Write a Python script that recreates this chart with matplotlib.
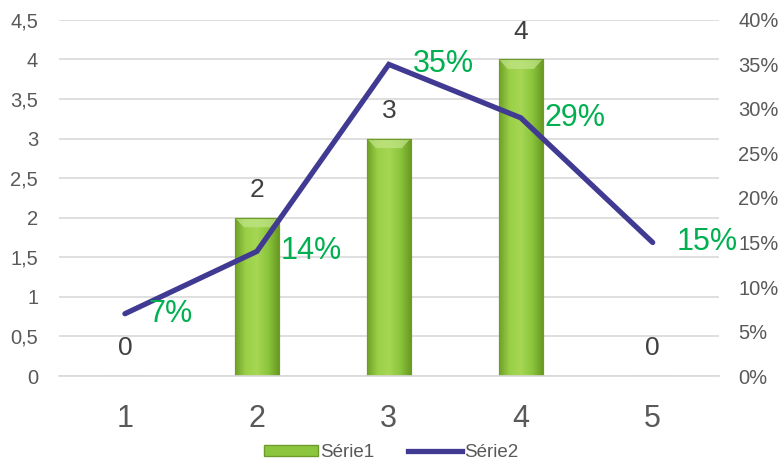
import numpy as np
import matplotlib
matplotlib.use('Agg')
import matplotlib.pyplot as plt
from matplotlib.lines import Line2D
from matplotlib.patches import Patch
from matplotlib.ticker import FuncFormatter

plt.rcParams['font.family'] = ['Liberation Sans', 'DejaVu Sans']

# Données
categories = [1, 2, 3, 4, 5]
serie1 = [0, 2, 3, 4, 0]
serie2 = [0.07, 0.14, 0.35, 0.29, 0.15]
labels2 = ['7%', '14%', '35%', '29%', '15%']

fig = plt.figure(figsize=(7.82, 4.62), dpi=100)
ax = fig.add_axes([0.0754, 0.186, 0.8436, 0.771])
ax2 = ax.twinx()

x = np.arange(len(categories))
bar_w = 0.33

# Barres avec un dégradé vert
bars = ax.bar(x, serie1, width=bar_w, color='#8CC63E', edgecolor='#6E9B2B',
              linewidth=0.8, zorder=2)
grad = np.linspace(0, 1, 256).reshape(1, -1)
cmap = matplotlib.colors.LinearSegmentedColormap.from_list(
    'vert', ['#6FA126', '#9BD048', '#A6D653', '#8CC63E', '#6A9A22'])
for b in bars:
    h = b.get_height()
    if h <= 0:
        continue
    x0 = b.get_x()
    im = ax.imshow(grad, cmap=cmap, aspect='auto', zorder=2.1,
                   extent=[x0, x0 + b.get_width(), 0, h])
    im.set_clip_path(b)
    # biseau en haut
    ax.fill([x0, x0 + b.get_width(), x0 + b.get_width() * 0.8, x0 + b.get_width() * 0.2],
            [h, h, h - 0.12, h - 0.12], color='#C3E68A', alpha=0.7, zorder=2.2, lw=0)
    ax.add_patch(plt.Rectangle((x0, 0), b.get_width(), h, fill=False,
                               edgecolor='#6E9B2B', lw=0.8, zorder=2.3))

for xi, v in zip(x, serie1):
    ax.text(xi, v + 0.2, str(v), ha='center', va='bottom', fontsize=19,
            color='#404040', zorder=4)

ax.set_xlim(-0.5, 4.5)
ax.set_ylim(0, 4.5)
ax.set_yticks(np.arange(0, 4.51, 0.5))
ax.yaxis.set_major_formatter(FuncFormatter(lambda v, p: ('%g' % v).replace('.', ',')))
ax.set_xticks(x)
ax.set_xticklabels([str(c) for c in categories])
ax.grid(axis='y', color='#D9D9D9', lw=1.2, zorder=0)
ax.set_axisbelow(True)
for s in ['top', 'left', 'right']:
    ax.spines[s].set_visible(False)
ax.spines['bottom'].set_color('#D9D9D9')
ax.spines['bottom'].set_linewidth(1.2)
ax.tick_params(axis='y', length=0, pad=15, labelsize=14.5, labelcolor='#595959')
ax.tick_params(axis='x', length=0, pad=20, labelsize=22, labelcolor='#595959')

# Ligne (axe secondaire)
ax2.plot(x, serie2, color='#403A93', lw=3.8, solid_capstyle='round',
         solid_joinstyle='miter', zorder=3)
for xi, v, t in zip(x, serie2, labels2):
    ax2.annotate(t, (xi, v), xytext=(17, 0), textcoords='offset points',
                 ha='left', va='center', fontsize=22, color='#00B050', zorder=5)
ax2.set_ylim(0, 0.4)
ax2.set_yticks(np.arange(0, 0.401, 0.05))
ax2.yaxis.set_major_formatter(FuncFormatter(lambda v, p: '%d%%' % round(v * 100)))
for s in ['top', 'left', 'right', 'bottom']:
    ax2.spines[s].set_visible(False)
ax2.tick_params(axis='y', length=0, pad=14, labelsize=14.5, labelcolor='#595959')

# Légende
handles = [Patch(facecolor='#8CC63E', edgecolor='#6E9B2B', label='Série1'),
           Line2D([0], [0], color='#403A93', lw=3.8, label='Série2')]
fig.legend(handles=handles, loc='lower center', bbox_to_anchor=(0.5, -0.035),
           ncol=2, frameon=False, fontsize=13.5, handlelength=2.9, handleheight=0.5,
           handletextpad=0.1, columnspacing=1.8, labelcolor='#595959')

fig.savefig('out.png', dpi=100)
